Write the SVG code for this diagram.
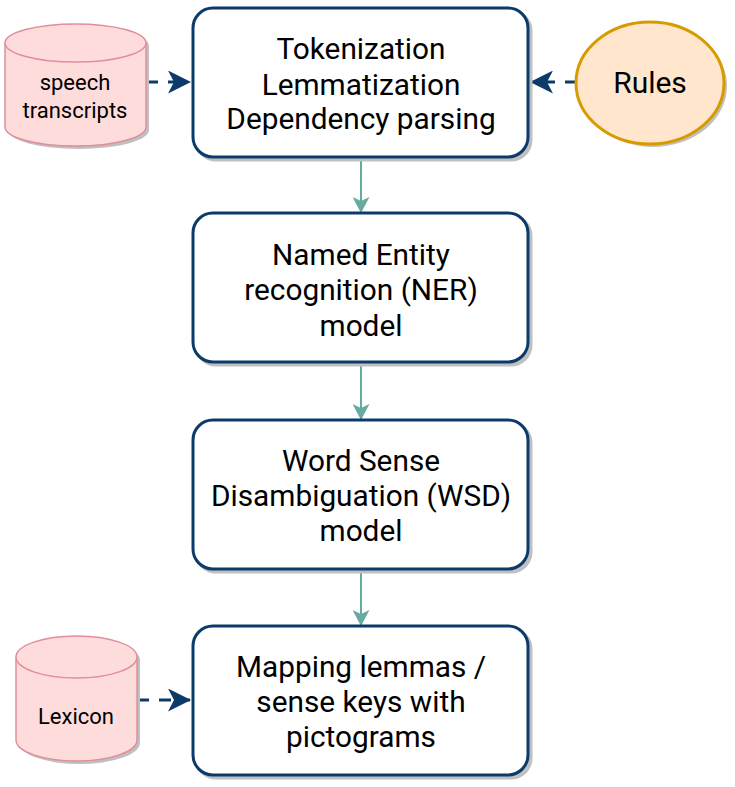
<svg xmlns="http://www.w3.org/2000/svg" width="735" height="787" viewBox="0 0 735 787">
<defs>
<style>
.box{fill:#ffffff;stroke:#0b3a6b;stroke-width:3}
.sh{fill:#c0c0c0;stroke:#c0c0c0;stroke-width:3}
.cyl{fill:#ffdcdc;stroke:#df8f9c;stroke-width:1.5}
.t{font-family:Roboto,"Liberation Sans",sans-serif;fill:#000;text-anchor:middle}
.big{font-size:29.8px}
.small{font-size:22px}
.dash{stroke:#0b3a6b;stroke-width:3;stroke-dasharray:12 10;fill:none}
.solid{stroke:#67ab9f;stroke-width:2;fill:none}
</style>
<marker id="ah" viewBox="0 0 23 23" refX="22" refY="11.5" markerWidth="23" markerHeight="23" markerUnits="userSpaceOnUse" orient="auto">
<path d="M0,0 L23,11.5 L0,23 L6,11.5 Z" fill="#0b3a6b"/>
</marker>
<marker id="ag" viewBox="0 0 16 17" refX="15" refY="8.5" markerWidth="16" markerHeight="17" markerUnits="userSpaceOnUse" orient="auto">
<path d="M0,0 L16,8.5 L0,17 L4,8.5 Z" fill="#67ab9f"/>
</marker>
</defs>
<rect width="735" height="787" fill="#ffffff"/>

<g id="connectors">
<line class="dash" x1="146" y1="82" x2="190" y2="82" marker-end="url(#ah)"/>
<line class="dash" x1="577" y1="82" x2="531" y2="82" marker-end="url(#ah)"/>
<line class="dash" x1="137" y1="700" x2="190" y2="700" marker-end="url(#ah)"/>
<line class="solid" x1="361" y1="158" x2="361" y2="212" marker-end="url(#ag)"/>
<line class="solid" x1="361" y1="363" x2="361" y2="419" marker-end="url(#ag)"/>
<line class="solid" x1="361" y1="570" x2="361" y2="625" marker-end="url(#ag)"/>
</g>

<g id="speech">
<path d="M8,46 A70.5,19 0 0 1 149,46 L149,130 A70.5,19 0 0 1 8,130 Z" fill="#c0c0c0"/>
<path class="cyl" d="M5,43 A70.5,19 0 0 1 146,43 L146,127 A70.5,19 0 0 1 5,127 Z"/>
<path class="cyl" d="M5,43 A70.5,19 0 0 0 146,43" fill="none"/>
<text class="t small" x="75" y="90">speech</text>
<text class="t small" x="75" y="118">transcripts</text>
</g>

<g id="rules">
<ellipse cx="653" cy="86" rx="74" ry="61" fill="#c0c0c0"/>
<ellipse cx="650" cy="83" rx="74" ry="61" fill="#ffe6cc" stroke="#d79b00" stroke-width="3"/>
<text class="t" x="650" y="93" font-size="30px">Rules</text>
</g>

<g id="box1">
<rect class="sh" x="196" y="11" width="335" height="149" rx="20"/>
<rect class="box" x="193" y="8" width="335" height="149" rx="20"/>
<text class="t big" x="361" y="59">Tokenization</text>
<text class="t big" x="361" y="95">Lemmatization</text>
<text class="t big" x="361" y="129">Dependency parsing</text>
</g>

<g id="box2">
<rect class="sh" x="196" y="216" width="335" height="149" rx="20"/>
<rect class="box" x="193" y="213" width="335" height="149" rx="20"/>
<text class="t big" x="361" y="265">Named Entity</text>
<text class="t big" x="361" y="300">recognition (NER)</text>
<text class="t big" x="361" y="336">model</text>
</g>

<g id="box3">
<rect class="sh" x="196" y="423" width="335" height="149" rx="20"/>
<rect class="box" x="193" y="420" width="335" height="149" rx="20"/>
<text class="t big" x="361" y="471">Word Sense</text>
<text class="t big" x="361" y="506">Disambiguation (WSD)</text>
<text class="t big" x="361" y="541">model</text>
</g>

<g id="box4">
<rect class="sh" x="196" y="629" width="335" height="149" rx="20"/>
<rect class="box" x="193" y="626" width="335" height="149" rx="20"/>
<text class="t big" x="361" y="677">Mapping lemmas /</text>
<text class="t big" x="361" y="712">sense keys with</text>
<text class="t big" x="361" y="747">pictograms</text>
</g>

<g id="lexicon">
<path d="M19,660 A60.5,21 0 0 1 140,660 L140,743 A60.5,21 0 0 1 19,743 Z" fill="#c0c0c0"/>
<path class="cyl" d="M16,657 A60.5,21 0 0 1 137,657 L137,740 A60.5,21 0 0 1 16,740 Z"/>
<path class="cyl" d="M16,657 A60.5,21 0 0 0 137,657" fill="none"/>
<text class="t small" x="76" y="724">Lexicon</text>
</g>
</svg>
